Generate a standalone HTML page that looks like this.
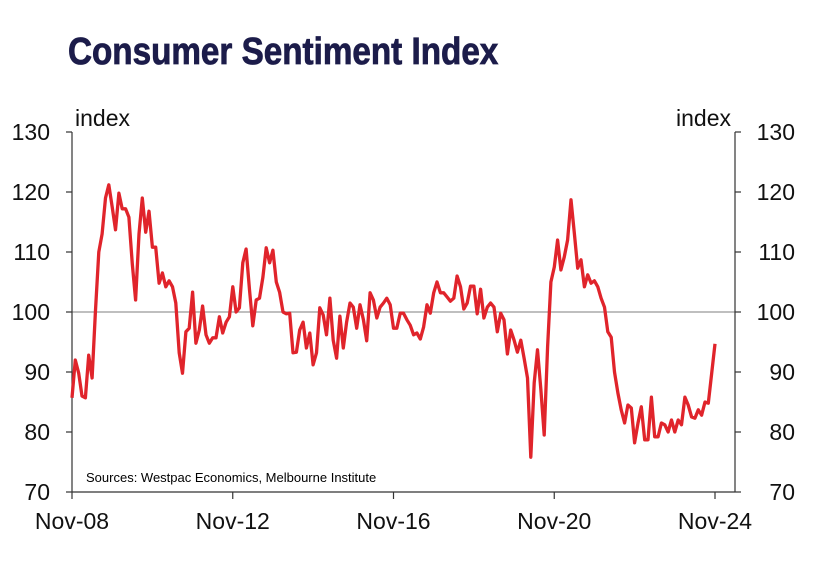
<!DOCTYPE html>
<html><head><meta charset="utf-8"><style>
body{margin:0;background:#fff;width:817px;height:557px;overflow:hidden;font-family:"Liberation Sans",sans-serif}
</style></head><body>
<svg width="817" height="557" viewBox="0 0 817 557">
<text x="68" y="64" font-family="'Liberation Sans Narrow','Liberation Sans',sans-serif" font-weight="bold" font-size="38" fill="#1c1c4a" stroke="#1c1c4a" stroke-width="0.8" transform="translate(68,0) scale(0.875,1) translate(-68,0)">Consumer Sentiment Index</text>
<g id="axes"></g>
<path id="line" fill="none" stroke="#e0242b" stroke-width="3.3" stroke-linejoin="round"/>
<text x="86" y="482" font-size="13" fill="#000">Sources: Westpac Economics, Melbourne Institute</text>
</svg>
<script>
const values=[85.7,92,89.8,86,85.7,92.8,89,100,110,113,119,121.2,117.5,113.7,119.8,117.2,117.2,115.8,108,102,113,119,113.3,116.8,110.8,110.8,104.8,106.5,104.2,105.2,104.2,101.5,93.2,89.8,96.7,97.3,103.3,94.8,97,101,96.2,94.8,95.7,95.7,99.2,96.5,98.3,99.2,104.2,100,100.7,108.2,110.5,103.7,97.7,102,102.3,105.8,110.7,108.2,110.3,105,103.3,100,99.7,99.8,93.2,93.3,97,
98.3,94,96.5,91.2,93.2,100.7,99.5,96.2,102.3,95.3,92.3,99.3,94,98.3,101.5,100.8,97.3,101.2,98.7,95.2,103.2,102,99,100.8,101.5,102.3,101.2,97.3,97.3,99.8,99.8,98.7,97.8,96.2,96.5,95.5,97.5,101.2,99.8,103.2,105,103.2,103.2,102.5,101.8,102.3,106,104.2,100.5,101.5,104.3,104.3,99.7,103.8,99,100.8,101.5,100.8,96.7,99.8,98.7,93,97,95.3,93.3,95.3,92.3,
89,75.8,88.2,93.7,87,79.5,94.2,105,107.5,112,107,109.2,112,118.7,113.2,107.3,108.7,104.2,106.2,104.8,105.2,104.2,102.3,100.8,96.7,95.8,90,86.5,83.7,81.5,84.5,84,78.2,81.5,84.2,78.7,78.7,85.8,79.2,79.2,81.5,81.2,80,82,80,82,81.2,85.8,84.5,82.5,82.3,83.7,82.8,85,84.8,89.8,94.7];
const yTicks=[70,80,90,100,110,120,130];
const xLabels=["Nov-08","Nov-12","Nov-16","Nov-20","Nov-24"];
const xLabelMonths=[0,48,96,144,192];
const X0=72,X1=735,Y0=492,Y1=132;
const xs=i=>72+i*(715-72)/192;
const ys=v=>Y0-(v-70)*(Y0-Y1)/60;
const NS="http://www.w3.org/2000/svg";
const ax=document.getElementById('axes');
function mk(t,a,p){const e=document.createElementNS(NS,t);for(const k in a)e.setAttribute(k,a[k]);(p||ax).appendChild(e);return e;}
let e;
e=mk('line',{x1:X0,y1:ys(100),x2:X1,y2:ys(100),stroke:'#999','stroke-width':1.2});


e=mk('line',{x1:X0,y1:Y1,x2:X0,y2:Y0,stroke:'#333','stroke-width':1.2});


e=mk('line',{x1:X1,y1:Y1,x2:X1,y2:Y0,stroke:'#333','stroke-width':1.2});


e=mk('line',{x1:X0,y1:Y0,x2:X1,y2:Y0,stroke:'#333','stroke-width':1.2});


yTicks.forEach(v=>{
 const y=ys(v);
 mk('line',{x1:X0-6,y1:y,x2:X0,y2:y,stroke:'#333','stroke-width':1.2});
 mk('line',{x1:X1,y1:y,x2:X1+6,y2:y,stroke:'#333','stroke-width':1.2});
 e=mk('text',{x:50,y:y+8,'font-size':23,'text-anchor':'end',fill:'#111'});e.textContent=v;
 
 
 e=mk('text',{x:795,y:y+8,'font-size':23,'text-anchor':'end',fill:'#111'});e.textContent=v;
 
 
});
xLabels.forEach((l,i)=>{
 const x=xs(xLabelMonths[i]);
 mk('line',{x1:x,y1:Y0,x2:x,y2:Y0+7,stroke:'#333','stroke-width':1.2});
 e=mk('text',{x:x,y:529,'font-size':23,'text-anchor':'middle',fill:'#111'});e.textContent=l;
 
 
});
e=mk('text',{x:75,y:126,'font-size':23,fill:'#111'});e.textContent='index';


e=mk('text',{x:731,y:126,'font-size':23,'text-anchor':'end',fill:'#111'});e.textContent='index';


document.getElementById('line').setAttribute('d',values.map((v,i)=>(i?'L':'M')+xs(i).toFixed(1)+','+ys(v).toFixed(1)).join(''));
</script>
</body></html>
